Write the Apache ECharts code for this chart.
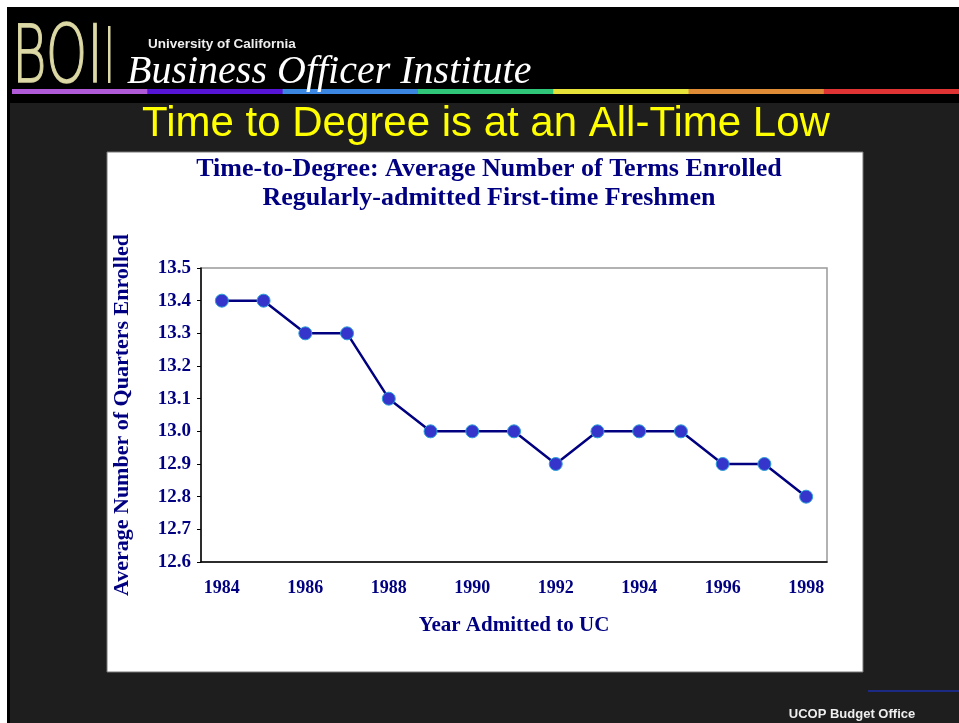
<!DOCTYPE html>
<html>
<head>
<meta charset="utf-8">
<script src="https://cdn.jsdelivr.net/npm/echarts@6/dist/echarts.min.js"></script>
<style>
  html, body { margin: 0; padding: 0; background: #1e1e1e; }
  #main { width: 959px; height: 723px; }
</style>
</head>
<body>
<div id="main"></div>
<script>
// data
var years = ['1984', '1985', '1986', '1987', '1988', '1989', '1990', '1991',
  '1992', '1993', '1994', '1995', '1996', '1997', '1998'];
var avgQuarters = [13.4, 13.4, 13.3, 13.3, 13.1, 13.0, 13.0, 13.0,
  12.9, 13.0, 13.0, 13.0, 12.9, 12.9, 12.8];
var rainbow = ['#b05ad8', '#5514d6', '#3a86e0', '#2fc67a', '#e6e23a', '#e08c36', '#e03434'];

var serif = '"Liberation Serif", "Times New Roman", serif';
var navy = '#000080';

var myChart = echarts.init(document.getElementById('main'));

// slide decoration (header bar, rainbow rule, white chart panel)
var deco = [
  { type: 'rect', shape: { x: 0, y: 0, width: 959, height: 7 }, style: { fill: '#fff' }, z: -10 },
  { type: 'rect', shape: { x: 0, y: 0, width: 7, height: 723 }, style: { fill: '#fff' }, z: -10 },
  { type: 'rect', shape: { x: 7, y: 7, width: 952, height: 96 }, style: { fill: '#000' }, z: -10 },
  { type: 'rect', shape: { x: 7, y: 103, width: 3, height: 620 }, style: { fill: '#000' }, z: -10 },
  { type: 'rect', shape: { x: 107, y: 152, width: 756, height: 520 },
    style: { fill: '#fff', stroke: '#777', lineWidth: 1 }, z: -9 },
  { type: 'rect', shape: { x: 868, y: 690, width: 91, height: 2 }, style: { fill: '#1c2a84' }, z: -9 },
  // logo
  { type: 'text', x: 12, y: 61, scaleX: 0.66, style: { text: 'BOI', fill: '#ddd9a6',
      stroke: '#cfcb96', lineWidth: 1.5,
      font: '200 80px "DejaVu Sans ExtraLight", "DejaVu Sans", sans-serif', verticalAlign: 'middle' } },
  { type: 'rect', shape: { x: 108, y: 26, width: 2.5, height: 57 }, style: { fill: '#ddd9a6' } },
  { type: 'text', x: 148, y: 44, style: { text: 'University of California', fill: '#eee',
      font: 'bold 13.5px "Liberation Sans", sans-serif', verticalAlign: 'middle' } },
  { type: 'text', x: 127, y: 92, style: { text: 'Business Officer Institute', fill: '#fff',
      font: 'italic 40px "Liberation Serif", serif', verticalAlign: 'bottom' } },
  // slide title
  { type: 'text', x: 486, y: 124, style: { text: 'Time to Degree is at an All-Time Low', fill: '#ffff00',
      font: '42px "Liberation Sans", Arial, sans-serif', align: 'center', verticalAlign: 'middle' } },
  // footer
  { type: 'text', x: 852, y: 714, style: { text: 'UCOP Budget Office', fill: '#eee',
      font: 'bold 13px "Liberation Sans", Arial, sans-serif', align: 'center', verticalAlign: 'middle' } }
];
rainbow.forEach(function (c, i) {
  deco.push({ type: 'rect', shape: { x: 12 + i * 135.3, y: 89, width: 136, height: 5 },
    style: { fill: c }, z: -8 });
});

myChart.setOption({
  backgroundColor: '#1e1e1e',
  animation: false,
  title: {
    text: 'Time-to-Degree: Average Number of Terms Enrolled\nRegularly-admitted First-time Freshmen',
    left: 484,
    textAlign: 'center',
    top: 150,
    textStyle: { fontFamily: serif, fontWeight: 'bold', fontSize: 26, lineHeight: 29, color: navy }
  },
  graphic: deco,
  grid: {
    left: 201, right: 132, top: 268, bottom: 161,
    show: true, borderColor: '#999', borderWidth: 1.5, backgroundColor: '#fff'
  },
  xAxis: {
    type: 'category',
    data: years,
    boundaryGap: true,
    name: 'Year Admitted to UC',
    nameLocation: 'middle',
    nameGap: 53,
    nameTextStyle: { fontFamily: serif, fontWeight: 'bold', fontSize: 21, color: navy },
    axisLine: { lineStyle: { color: '#000', width: 1.5 } },
    axisTick: { interval: 0, length: 5, lineStyle: { color: '#000' } },
    axisLabel: { interval: 1, margin: 17, fontFamily: serif, fontWeight: 'bold', fontSize: 18, color: navy }
  },
  yAxis: {
    type: 'value',
    min: 12.6, max: 13.5, interval: 0.1,
    name: 'Average Number of Quarters Enrolled',
    nameLocation: 'middle',
    nameRotate: 90,
    nameGap: 68,
    nameTextStyle: { fontFamily: serif, fontWeight: 'bold', fontSize: 22, color: navy },
    axisLine: { show: true, lineStyle: { color: '#000', width: 1.5 } },
    axisTick: { show: true, length: 4, lineStyle: { color: '#000' } },
    splitLine: { show: false },
    axisLabel: {
      margin: 10, fontFamily: serif, fontWeight: 'bold', fontSize: 19, color: navy,
      formatter: function (v) { return v.toFixed(1); }
    }
  },
  series: [{
    type: 'line',
    data: avgQuarters,
    symbol: 'circle',
    symbolSize: 13,
    lineStyle: { color: navy, width: 2.5 },
    itemStyle: { color: '#3535cc', borderColor: '#2aa0d8', borderWidth: 1 }
  }]
});
</script>
</body>
</html>
